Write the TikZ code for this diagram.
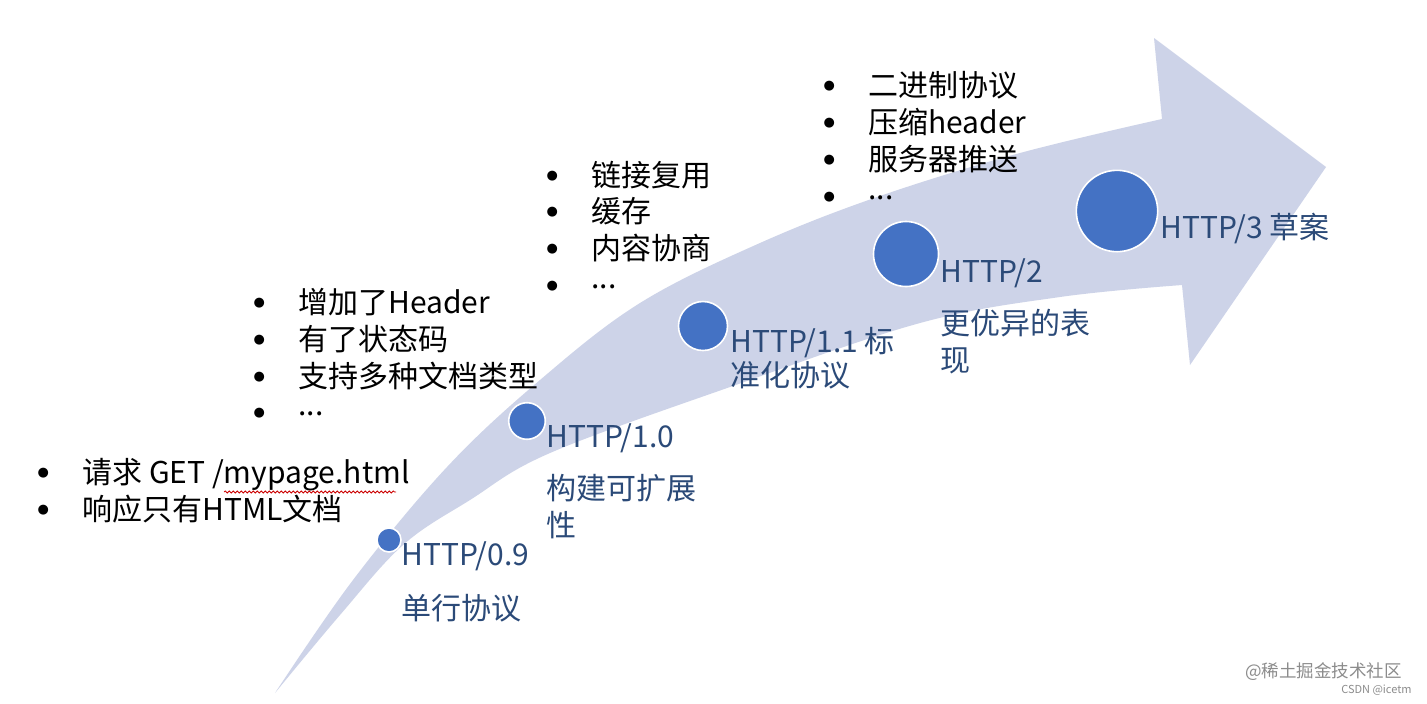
\documentclass[tikz,border=0pt]{standalone}
\usepackage{fontspec}
\setmainfont{Noto Sans CJK SC}
\newfontfamily\symfont{DejaVu Sans}
\usetikzlibrary{decorations.pathmorphing}
\definecolor{bandc}{HTML}{CDD3E8}
\definecolor{dotc}{HTML}{4472C4}
\definecolor{lblc}{HTML}{2B4A78}
\newcommand{\bulmark}{\llap{\makebox[8pt][c]{\raisebox{3.2pt}{\symfont\fontsize{6.5}{7}\selectfont ●}}\hspace{15.5pt}}}
\newcommand{\dotsmark}{\raisebox{0.25em}{...}}
\begin{document}
\begin{tikzpicture}[x=0.5pt,y=-0.5pt,
  listtxt/.style={anchor=base west, inner sep=0pt, font=\fontsize{15}{18}\selectfont, text=black},
  lbl/.style={anchor=base west, inner sep=0pt, font=\fontsize{15}{18}\selectfont, text=lblc},
  vdot/.style={circle, fill=dotc, draw=white, line width=0.8pt, inner sep=0pt, minimum size=#1},
  wmark/.style={inner sep=0pt, text=black!45}
]
\fill[white] (0,0) rectangle (1427,703);
\useasboundingbox (0,0) rectangle (1427,703);

% curved arrow band
\fill[bandc] plot[smooth, tension=0.6] coordinates {(275,693) (353,580) (447,467) (540,380) (640,303) (760,243) (880,196) (1020,153) (1162,119)}
  -- (1154,38) -- (1326,167) -- (1190,365)
  -- plot[smooth, tension=0.6] coordinates {(1182,285) (1060,297) (920,323) (730,387) (550,453) (470,500) (403,545) (340,615) (275,693)} -- cycle;

% milestones
\node[vdot=12pt]   (d09) at (389,540) {};
\node[vdot=18.3pt] (d10) at (527,421) {};
\node[vdot=24.5pt] (d11) at (703,326) {};
\node[vdot=32.5pt] (d2)  at (906,254) {};
\node[vdot=40.7pt] (d3)  at (1117,211) {};

% labels
\node[lbl] (t09)  at (401,565) {HTTP/0.9};
\node[lbl] (t09b) at (401,619) {单行协议};
\node[lbl] (t10)  at (546,447) {HTTP/1.0};
\node[lbl] (t10b) at (546,499) {构建可扩展};
\node[lbl] (t10c) at (546,536) {性};
\node[lbl] (t11)  at (730,352) {HTTP/1.1 标};
\node[lbl] (t11b) at (730,386) {准化协议};
\node[lbl] (t2)   at (940,282) {HTTP/2};
\node[lbl] (t2b)  at (940,334) {更优异的表};
\node[lbl] (t2c)  at (940,371) {现};
\node[lbl] (t3)   at (1160,238) {HTTP/3 草案};

% feature lists
\node[listtxt] (a1) at (82,483) {\bulmark 请求 GET /mypage.html};
\node[listtxt] (a2) at (82,520) {\bulmark 响应只有HTML文档};
\draw[red!80!black, line width=0.4pt, decorate, decoration={snake, amplitude=0.5pt, segment length=2pt}] (224,492) -- (396,492);

\node[listtxt] (b1) at (298,313) {\bulmark 增加了Header};
\node[listtxt] (b2) at (298,350) {\bulmark 有了状态码};
\node[listtxt] (b3) at (298,387) {\bulmark 支持多种文档类型};
\node[listtxt] (b4) at (298,423) {\bulmark \dotsmark};

\node[listtxt] (c1) at (591,186) {\bulmark 链接复用};
\node[listtxt] (c2) at (591,222) {\bulmark 缓存};
\node[listtxt] (c3) at (591,259) {\bulmark 内容协商};
\node[listtxt] (c4) at (591,296) {\bulmark \dotsmark};

\node[listtxt] (e1) at (868,96)  {\bulmark 二进制协议};
\node[listtxt] (e2) at (868,133) {\bulmark 压缩header};
\node[listtxt] (e3) at (868,170) {\bulmark 服务器推送};
\node[listtxt] (e4) at (868,207) {\bulmark \dotsmark};

% source marks
\node[wmark, anchor=base west, font=\fontsize{8.75}{10}\selectfont] (w1) at (1245,677) {@稀土掘金技术社区};
\node[wmark, anchor=base east, font=\fontsize{5.5}{7}\selectfont] (w2) at (1412,693) {CSDN @icetm};
\end{tikzpicture}
\end{document}
